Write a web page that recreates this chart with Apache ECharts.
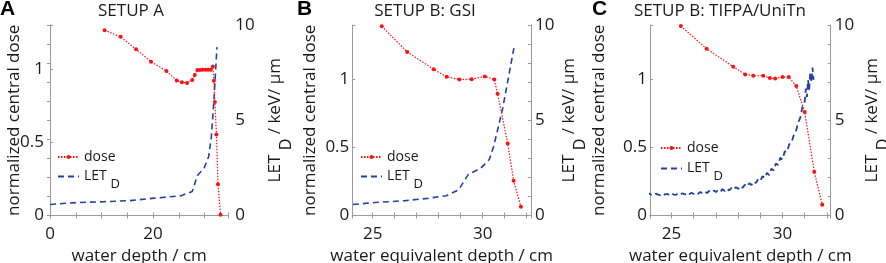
<!DOCTYPE html>
<html><head><meta charset="utf-8">
<script src="https://cdn.jsdelivr.net/npm/echarts@6/dist/echarts.min.js"></script>
<style>html,body{margin:0;padding:0;background:#fff}#c{width:886px;height:263px}</style>
</head><body><div id="c"></div>
<script>
// ---------------- data ----------------
const panelLetters = ['A', 'B', 'C'];
const panelTitles = ['SETUP A', 'SETUP B: GSI', 'SETUP B: TIFPA/UniTn'];
const xAxisNames = ['water depth / cm', 'water equivalent depth / cm', 'water equivalent depth / cm'];
const leftAxisName = 'normalized central dose';

// Panel A
const aDoseX = [10.6, 13.7, 16.7, 19.6, 22.6, 24.6, 25.6, 26.6, 27.6, 28.1, 28.6, 29.1, 29.6, 30.2, 30.7, 31.2, 31.6, 31.8, 32.0, 32.3, 32.6, 33.1];
const aDoseY = [1.264, 1.219, 1.134, 1.05, 0.986, 0.921, 0.909, 0.905, 0.925, 0.958, 0.993, 0.993, 0.995, 0.995, 0.995, 0.995, 1.017, 0.92, 0.774, 0.553, 0.213, 0.005];
const aLetX = [0, 5.2, 10.3, 15.5, 19.8, 25.3, 27.6, 28.6, 29.9, 30.8, 31.3, 31.8, 32.4];
const aLetY = [0.58, 0.68, 0.72, 0.78, 0.9, 1.03, 1.26, 2.1, 2.48, 3.1, 4.1, 6.0, 8.84];

// Panel B
const bDoseX = [25.41, 26.57, 27.77, 28.36, 28.94, 29.5, 30.1, 30.53, 30.68, 31.14, 31.41, 31.74];
const bDoseY = [1.39, 1.202, 1.075, 1.019, 1.0, 1.002, 1.022, 1.0, 0.895, 0.529, 0.256, 0.064];
const bLetX = [24.1, 25.1, 26.5, 27.5, 28.35, 28.9, 29.35, 29.9, 30.3, 30.5, 30.9, 31.15, 31.43];
const bLetY = [0.58, 0.68, 0.78, 0.9, 1.04, 1.34, 2.16, 2.47, 2.94, 3.62, 5.55, 7.1, 8.84];

// Panel C
const cDoseX = [25.42, 26.58, 27.78, 28.32, 28.68, 29.13, 29.43, 29.67, 30.0, 30.28, 30.62, 31.0, 31.43, 31.79];
const cDoseY = [1.392, 1.226, 1.093, 1.037, 1.027, 1.027, 1.01, 1.007, 1.017, 1.017, 0.951, 0.76, 0.321, 0.079];
const cLetX = [23.5, 23.6, 23.7, 23.8, 23.9, 24.0, 24.1, 24.2, 24.3, 24.4, 24.5, 24.6, 24.7, 24.8, 24.9,
  25.0, 25.1, 25.2, 25.3, 25.4, 25.5, 25.6, 25.7, 25.8, 25.9, 26.0, 26.1, 26.2, 26.3, 26.4, 26.5, 26.6, 26.7, 26.8, 26.9,
  27.0, 27.1, 27.2, 27.3, 27.4, 27.5, 27.6, 27.7, 27.8, 27.9, 28.0, 28.1, 28.2, 28.3, 28.4, 28.5, 28.6, 28.7, 28.8, 28.9,
  29.0, 29.1, 29.2, 29.3, 29.4, 29.5, 29.6, 29.7, 29.8, 29.9, 30.0, 30.1, 30.2, 30.3, 30.4, 30.5, 30.6, 30.7, 30.8, 30.9,
  31.0, 31.05, 31.1, 31.15, 31.2, 31.25, 31.3, 31.35, 31.4];
const cLetY = [1.10, 1.16, 1.06, 1.14, 1.07, 1.15, 1.08, 1.06, 1.15, 1.09, 1.07, 1.16, 1.09, 1.14, 1.07,
  1.17, 1.10, 1.08, 1.18, 1.11, 1.17, 1.10, 1.20, 1.12, 1.19, 1.13, 1.22, 1.14, 1.24, 1.16, 1.26, 1.18, 1.29, 1.20, 1.31,
  1.23, 1.34, 1.25, 1.38, 1.28, 1.41, 1.31, 1.45, 1.35, 1.49, 1.40, 1.55, 1.45, 1.61, 1.52, 1.69, 1.60, 1.79, 1.70, 1.91,
  1.82, 2.06, 1.97, 2.24, 2.12, 2.46, 2.36, 2.73, 2.65, 3.04, 2.94, 3.37, 3.34, 3.74, 3.80, 4.20, 4.40, 4.86, 5.14, 5.72,
  5.98, 6.66, 6.22, 7.12, 6.60, 7.52, 7.00, 7.76, 7.12];

const doseSets = [[aDoseX, aDoseY], [bDoseX, bDoseY], [cDoseX, cDoseY]];
const letSets = [[aLetX, aLetY], [bLetX, bLetY], [cLetX, cLetY]];

// ---------------- layout ----------------
const FONT = 'Open Sans';
const RED = '#ff1010';
const BLUE = '#2242a2';
const AXC = '#9a9a9a';
const TXT = '#1a1a1a';
const layout = [
  {left: 50, width: 178.3, xMin: 0, xMax: 34.6, split: 7, step: 20, yMax: 1.3, titleX: 131,
   legLeft: 57, legTop1: 150, legTop2: 162.5, lGap: 27.5, rGap: 38.2, lMargin: 6, rMargin: 7, letW: 1.6},
  {left: 352.3, width: 178.7, xMin: 24.07, xMax: 32.2, split: 8, step: 5, yMax: 1.4, titleX: 425,
   legLeft: 360, legTop1: 150, legTop2: 162.5, lGap: 33.3, rGap: 29.5, lMargin: 3, rMargin: 4, letW: 1.6},
  {left: 650, width: 180.7, xMin: 24.03, xMax: 32.17, split: 8, step: 5, yMax: 1.4, titleX: 720,
   legLeft: 660, legTop1: 141, legTop2: 154.5, lGap: 42, rGap: 32.3, lMargin: 3, rMargin: 4, letW: 1.8}
];
const letterX = [0, 297, 592];
const GTOP = 25, GH = 190.5;

const zip = (xs, ys) => xs.map((x, i) => [x, ys[i]]);
const isMult = (v, s) => Math.abs(v / s - Math.round(v / s)) < 1e-6;

const option = {
  animation: false,
  textStyle: {fontFamily: FONT},
  title: [], legend: [], grid: [], xAxis: [], yAxis: [], series: []
};

layout.forEach((L, i) => {
  option.title.push({text: panelTitles[i], left: L.titleX, top: 3, textAlign: 'center', padding: 0,
    textStyle: {fontFamily: FONT, fontSize: 17, fontWeight: 'normal', color: TXT}});
  option.title.push({text: panelLetters[i], left: letterX[i], top: -1, padding: 0,
    textStyle: {fontFamily: 'Liberation Sans', fontSize: 21, fontWeight: 'bold', color: '#000'}});

  option.grid.push({left: L.left, top: GTOP, width: L.width, height: GH, containLabel: false,
    outerBoundsMode: 'none'});

  const xCommon = {type: 'value', gridIndex: i, min: L.xMin, max: L.xMax, splitNumber: L.split,
    nameMoveOverlap: false,
    axisLine: {show: true, lineStyle: {color: AXC, width: 1}},
    axisTick: {show: true, inside: true, length: 3, lineStyle: {color: AXC}},
    splitLine: {show: false}};
  option.xAxis.push(Object.assign({}, xCommon, {position: 'bottom',
    name: xAxisNames[i], nameLocation: 'middle', nameGap: 32,
    nameTextStyle: {fontSize: 17, color: TXT, fontFamily: FONT},
    axisLabel: {fontSize: 17, color: TXT, margin: 10, fontFamily: FONT,
      formatter: v => isMult(v, L.step) ? String(Math.round(v)) : ''}}));
  option.xAxis.push(Object.assign({}, xCommon, {position: 'top', axisLabel: {show: false}}));

  option.yAxis.push({type: 'value', gridIndex: i, position: 'left', min: 0, max: L.yMax, interval: 0.5,
    name: leftAxisName, nameLocation: 'middle', nameGap: L.lGap, nameMoveOverlap: false,
    nameTextStyle: {fontSize: 17, color: TXT, fontFamily: FONT},
    axisLine: {show: true, lineStyle: {color: AXC}},
    axisTick: {show: true, inside: true, length: 3, lineStyle: {color: AXC}},
    axisLabel: {fontSize: 17, color: TXT, margin: L.lMargin, fontFamily: FONT,
      formatter: v => isMult(v, 0.5) ? String(Math.round(v * 10) / 10) : ''},
    splitLine: {show: false}});
  option.yAxis.push({type: 'value', gridIndex: i, position: 'right', min: 0, max: 10, interval: 1,
    name: '{m|LET }{s|D}{m| / keV/ μm}', nameLocation: 'middle', nameGap: L.rGap, nameMoveOverlap: false,
    nameTextStyle: {fontFamily: FONT, color: TXT, rich: {
      m: {fontSize: 17, lineHeight: 18, fontFamily: FONT, color: TXT},
      s: {fontSize: 16, lineHeight: 18, padding: [22, 0, 0, 0], fontFamily: FONT, color: TXT}}},
    axisLine: {show: true, lineStyle: {color: AXC}},
    axisTick: {show: true, inside: true, length: 3, lineStyle: {color: AXC}},
    axisLabel: {fontSize: 17, color: TXT, margin: L.rMargin, fontFamily: FONT,
      formatter: v => isMult(v, 5) ? String(Math.round(v)) : ''},
    splitLine: {show: false}});

  option.series.push({name: 'dose', type: 'line', xAxisIndex: 2 * i, yAxisIndex: 2 * i,
    data: zip(doseSets[i][0], doseSets[i][1]),
    symbol: 'circle', symbolSize: 4, showSymbol: true,
    lineStyle: {color: RED, width: 1.2, type: [1.5, 1.5]},
    itemStyle: {color: RED}, z: 3});
  option.series.push({name: 'LET', type: 'line', xAxisIndex: 2 * i, yAxisIndex: 2 * i + 1,
    data: zip(letSets[i][0], letSets[i][1]), clip: false,
    symbol: 'none', showSymbol: false,
    lineStyle: {color: BLUE, width: L.letW, type: [6, 4]},
    itemStyle: {color: BLUE}, z: 2});

  const legCommon = {orient: 'vertical', left: L.legLeft, padding: 0, itemWidth: 21, itemHeight: 5,
    selectedMode: false,
    textStyle: {fontFamily: FONT, fontSize: 14, color: TXT,
      rich: {m: {fontSize: 14, lineHeight: 15, fontFamily: FONT, color: TXT},
             s: {fontSize: 13, lineHeight: 15, padding: [15, 0, 0, 0], fontFamily: FONT, color: TXT}}}};
  option.legend.push(Object.assign({}, legCommon, {top: L.legTop1, data: ['dose']}));
  option.legend.push(Object.assign({}, legCommon, {top: L.legTop2, data: ['LET'],
    itemStyle: {color: 'rgba(0,0,0,0)', borderWidth: 0},
    formatter: () => '{m|LET }{s|D}'}));
});

const chart = echarts.init(document.getElementById('c'), null, {renderer: 'canvas'});
chart.setOption(option);
</script>
</body></html>
